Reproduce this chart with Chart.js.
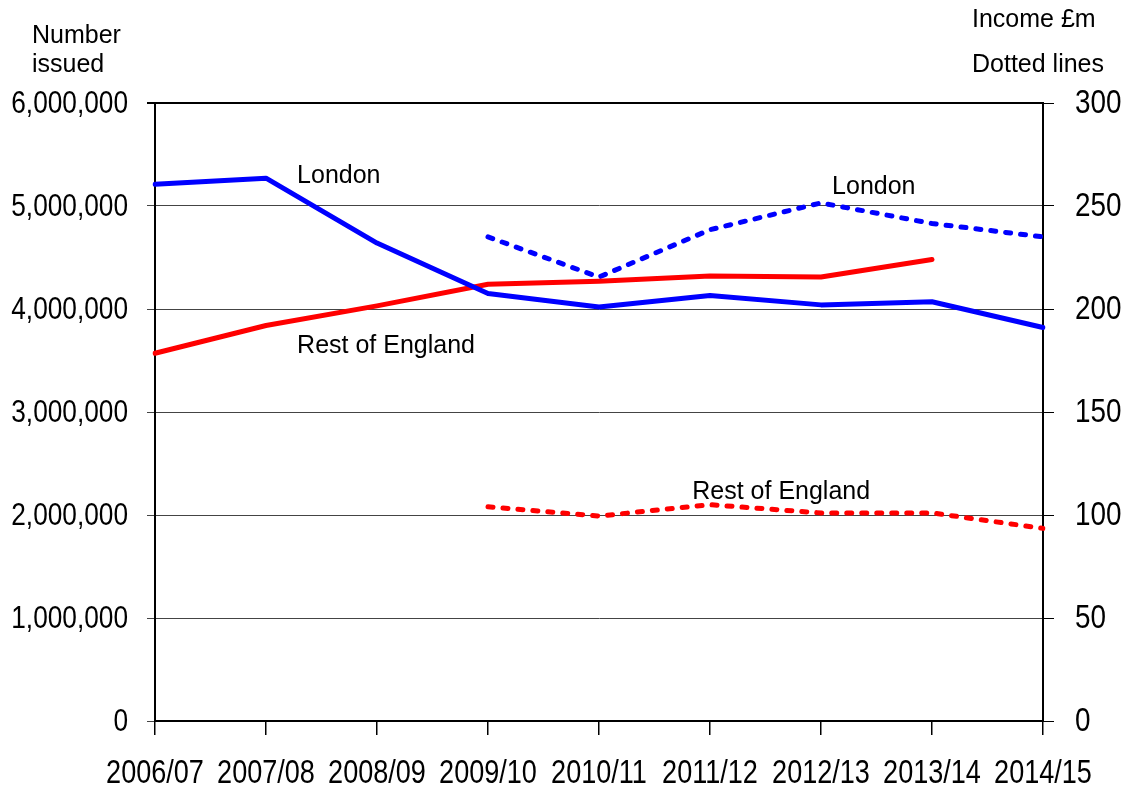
<!DOCTYPE html>
<html>
<head>
<meta charset="utf-8">
<script src="https://cdn.jsdelivr.net/npm/chart.js@4/dist/chart.umd.min.js"></script>
<style>
  html, body { margin: 0; padding: 0; background: #fff; }
  #wrap { width: 1134px; height: 790px; }
</style>
</head>
<body>
<div id="wrap"><canvas id="chart" width="1134" height="790"></canvas></div>
<script>
const categories = ["2006/07", "2007/08", "2008/09", "2009/10", "2010/11", "2011/12", "2012/13", "2013/14", "2014/15"];

// number issued (left axis, solid)
const londonIssued = [5210000, 5270000, 4640000, 4150000, 4020000, 4130000, 4040000, 4070000, 3820000];
const restIssued = [3570000, 3840000, 4030000, 4240000, 4270000, 4320000, 4310000, 4480000, null];

// income £m (right axis, dotted)
const londonIncome = [null, null, null, 235, 215.5, 238.5, 251.5, 241.5, 235];
const restIncome = [null, null, null, 104, 99.5, 105, 101, 101, 93.5];

const leftTicks = [0, 1000000, 2000000, 3000000, 4000000, 5000000, 6000000];
const rightTicks = [0, 50, 100, 150, 200, 250, 300];

const BLUE = "#0000ff";
const RED = "#ff0000";
const SANS = "'Liberation Sans', Arial, sans-serif";
const NARROW = 0.82; // no narrow face installed, squeeze Liberation Sans instead

// labels placed in data space: [text, axis, category index, value]
const seriesLabels = [
  ["London", "y", 1.28, 5220000],
  ["Rest of England", "y", 1.28, 3576000],
  ["London", "y1", 6.1, 255.6],
  ["Rest of England", "y1", 4.84, 107.9],
];

function narrowText(ctx, text, x, y, align) {
  ctx.save();
  ctx.translate(x, y);
  ctx.scale(NARROW, 1);
  ctx.textAlign = align;
  ctx.fillText(text, 0, 0);
  ctx.restore();
}

const textPlugin = {
  id: "textPlugin",
  afterDraw(chart) {
    const ctx = chart.ctx;
    const { x, y, y1 } = chart.scales;
    ctx.save();
    ctx.fillStyle = "#000";
    ctx.textBaseline = "middle";

    // tick labels
    ctx.font = "32px " + SANS;
    leftTicks.forEach(v => narrowText(ctx, v.toLocaleString("en-GB"), 128, y.getPixelForValue(v) + 1, "right"));
    ctx.font = "34px " + SANS;
    rightTicks.forEach(v => narrowText(ctx, String(v), 1075, y1.getPixelForValue(v) + 1, "left"));
    ctx.font = "33px " + SANS;
    categories.forEach((c, i) => narrowText(ctx, c, x.getPixelForValue(i), 774, "center"));

    // series labels + axis titles
    ctx.font = "25px " + SANS;
    ctx.textBaseline = "alphabetic";
    ctx.textAlign = "left";
    seriesLabels.forEach(([text, axis, idx, val]) => {
      ctx.fillText(text, x.getPixelForValue(idx), chart.scales[axis].getPixelForValue(val));
    });
    ctx.fillText("Number", 32, 43);
    ctx.fillText("issued", 32, 72);
    ctx.fillText("Income £m", 972, 27);
    ctx.fillText("Dotted lines", 972, 72);
    ctx.restore();
  }
};

const solid = (label, data, color) => ({
  label, data, yAxisID: "y",
  borderColor: color, borderWidth: 5, pointRadius: 0, tension: 0,
  borderJoinStyle: "round", borderCapStyle: "round", spanGaps: false
});
const dotted = (label, data, color) => ({
  label, data, yAxisID: "y1",
  borderColor: color, borderWidth: 5, pointRadius: 0, tension: 0,
  borderDash: [5, 10], borderJoinStyle: "round", borderCapStyle: "round", spanGaps: false
});

new Chart(document.getElementById("chart"), {
  type: "line",
  data: {
    labels: categories,
    datasets: [
      solid("London number issued", londonIssued, BLUE),
      solid("Rest of England number issued", restIssued, RED),
      dotted("London income", londonIncome, BLUE),
      dotted("Rest of England income", restIncome, RED),
    ]
  },
  options: {
    responsive: false,
    animation: false,
    events: [],
    layout: { padding: { top: 103, left: 0, right: 0, bottom: 0 } },
    plugins: { legend: { display: false }, tooltip: { enabled: false } },
    scales: {
      x: {
        offset: false,
        grid: { drawOnChartArea: false, drawTicks: true, tickLength: 14, color: "#000", lineWidth: 1.5 },
        border: { display: true, color: "#000", width: 2 },
        ticks: { display: false, autoSkip: false, maxRotation: 0 },
        afterFit(s) { s.height = 69; }
      },
      y: {
        position: "left",
        min: 0, max: 6000000,
        afterBuildTicks(s) { s.ticks = leftTicks.map(v => ({ value: v })); },
        grid: {
          drawTicks: true, tickLength: 8,
          color: ctx => ctx.tick && ctx.tick.value === 6000000 ? "#000" : "#444",
          lineWidth: ctx => ctx.tick && ctx.tick.value === 6000000 ? 2 : 1
        },
        border: { display: true, color: "#000", width: 2 },
        ticks: { display: false },
        afterFit(s) { s.width = 155; }
      },
      y1: {
        position: "right",
        min: 0, max: 300,
        afterBuildTicks(s) { s.ticks = rightTicks.map(v => ({ value: v })); },
        grid: { drawOnChartArea: false, drawTicks: true, tickLength: 11, color: "#000", lineWidth: 1 },
        border: { display: true, color: "#000", width: 2 },
        ticks: { display: false },
        afterFit(s) { s.width = 91; }
      }
    }
  },
  plugins: [textPlugin]
});
</script>
</body>
</html>
